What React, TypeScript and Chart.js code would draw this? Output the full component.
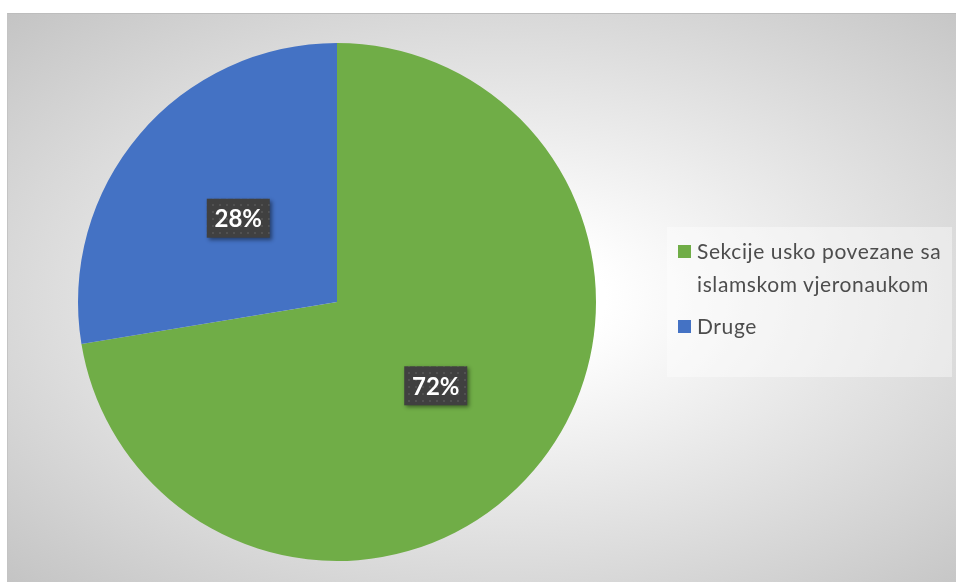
import React, { useEffect, useRef } from 'react';
import { Chart, registerables } from 'chart.js';

Chart.register(...registerables);

const categories = ['Sekcije usko povezane sa islamskom vjeronaukom', 'Druge'];
const values = [72.4, 27.6];
const colors = ['#70AD47', '#4472C4'];
const labelTexts = values.map((v) => `${Math.round(v)}%`);

const FRAME_W = 949;
const FRAME_H = 569;

function makePattern(ctx: CanvasRenderingContext2D) {
  const c = document.createElement('canvas');
  c.width = 7;
  c.height = 7;
  const g = c.getContext('2d')!;
  g.fillStyle = 'rgba(255,255,255,0.09)';
  g.fillRect(2, 2, 2, 2);
  return ctx.createPattern(c, 'repeat');
}

const boxLabelPlugin = {
  id: 'boxLabels',
  afterDatasetsDraw(chart: any) {
    const ctx: CanvasRenderingContext2D = chart.ctx;
    const meta = chart.getDatasetMeta(0);
    const pattern = makePattern(ctx);
    meta.data.forEach((arc: any, i: number) => {
      const p = arc.tooltipPosition(false);
      const w = 63;
      const h = 39;
      const x = p.x - w / 2;
      const y = p.y - h / 2;
      ctx.save();
      ctx.shadowColor = 'rgba(0,0,0,0.45)';
      ctx.shadowBlur = 4;
      ctx.shadowOffsetX = 2;
      ctx.shadowOffsetY = 2;
      ctx.fillStyle = '#404040';
      ctx.fillRect(x, y, w, h);
      ctx.shadowColor = 'transparent';
      if (pattern) {
        ctx.fillStyle = pattern;
        ctx.fillRect(x, y, w, h);
      }
      ctx.font = 'bold 24px Lato';
      ctx.fillStyle = '#ffffff';
      ctx.textAlign = 'center';
      ctx.textBaseline = 'middle';
      ctx.fillText(labelTexts[i], p.x, p.y + 1);
      ctx.restore();
    });
  },
};

export default function App() {
  const canvasRef = useRef<HTMLCanvasElement | null>(null);

  useEffect(() => {
    if (!canvasRef.current) return;
    const chart = new Chart(canvasRef.current, {
      type: 'pie',
      data: {
        labels: categories,
        datasets: [
          {
            data: values,
            backgroundColor: colors,
            borderWidth: 0,
          },
        ],
      },
      options: {
        responsive: false,
        animation: false,
        layout: { padding: { left: 71, right: 360, top: 30, bottom: 21 } },
        plugins: {
          legend: { display: false },
          tooltip: { enabled: false },
        },
      },
      plugins: [boxLabelPlugin],
    });
    return () => chart.destroy();
  }, []);

  return (
    <div style={{ position: 'fixed', left: 0, top: 0, width: 956, height: 582, background: '#ffffff', overflow: 'hidden' }}>
      <div
        style={{
          position: 'absolute',
          left: 7,
          top: 13,
          width: FRAME_W,
          height: FRAME_H,
          boxSizing: 'border-box',
          borderTop: '1px solid #bdbdbd',
          borderLeft: '1px solid #c4c4c4',
          background: 'radial-gradient(ellipse farthest-corner at 52% 50%, #ffffff 0%, #ffffff 15%, #c4c4c4 100%)',
        }}
      >
        <canvas ref={canvasRef} width={FRAME_W} height={FRAME_H} style={{ position: 'absolute', left: -1, top: -1 }} />
        <div
          style={{
            position: 'absolute',
            left: 659,
            top: 213,
            width: 285,
            height: 150,
            background: 'rgba(255,255,255,0.4)',
            fontFamily: 'Lato, "Open Sans", sans-serif',
            fontSize: 21,
            letterSpacing: '0.6px',
            color: '#4d4d4d',
          }}
        >
          {categories.map((c, i) => (
            <div
              key={c}
              style={{
                position: 'absolute',
                left: 11,
                top: i === 0 ? 7 : 82,
                display: 'flex',
                alignItems: 'flex-start',
              }}
            >
              <div style={{ width: 13, height: 13, marginTop: 11, background: colors[i], flex: 'none' }} />
              <div style={{ marginLeft: 6, width: 262, lineHeight: '33px' }}>{c}</div>
            </div>
          ))}
        </div>
      </div>
    </div>
  );
}
